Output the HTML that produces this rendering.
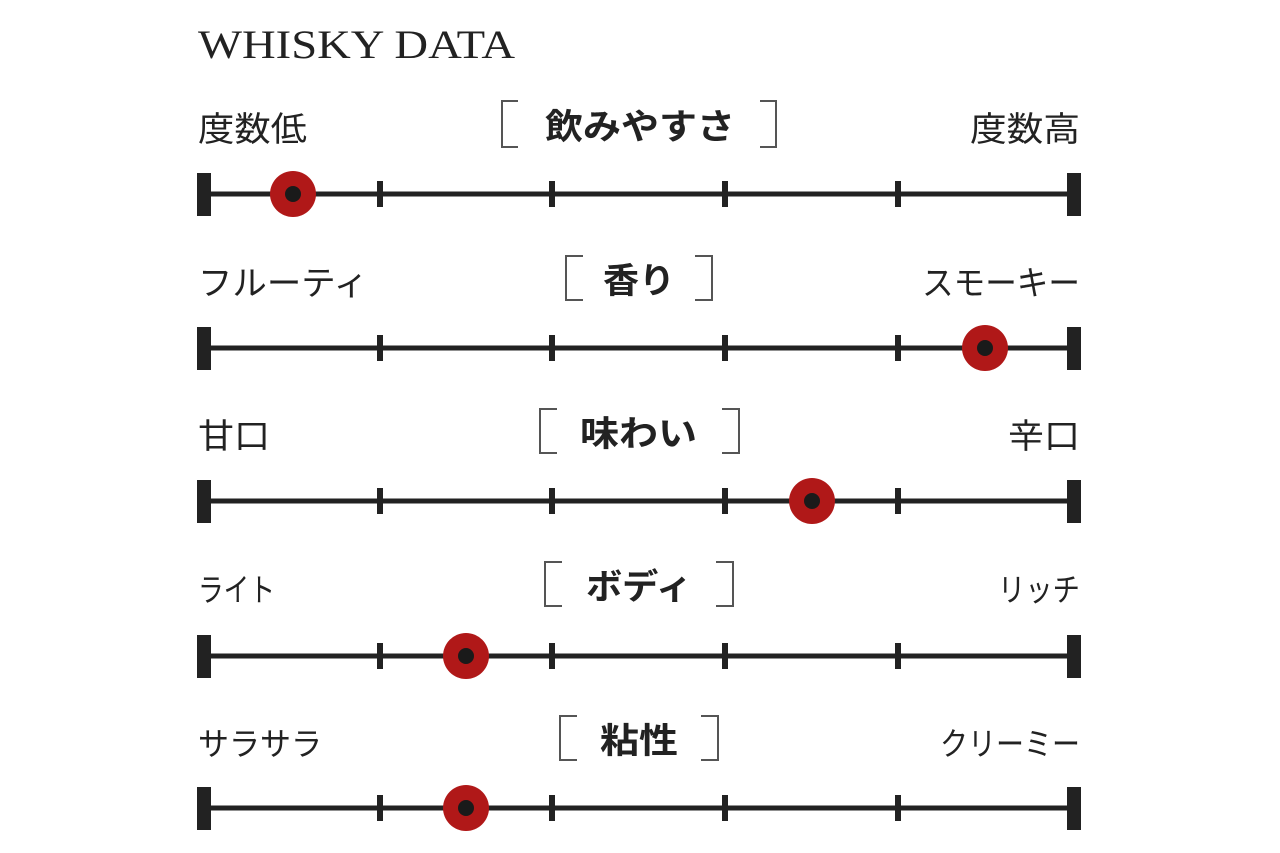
<!DOCTYPE html>
<html><head><meta charset="utf-8"><style>html,body{margin:0;padding:0;background:#fff;}svg{display:block}</style></head>
<body>
<svg width="1280" height="853" viewBox="0 0 1280 853" xmlns="http://www.w3.org/2000/svg">
<text x="198" y="58" font-family="Liberation Serif, serif" font-size="40" fill="#222" textLength="317" lengthAdjust="spacingAndGlyphs">WHISKY DATA</text>
<g font-family="Liberation Sans, Noto Sans CJK JP, sans-serif" fill="#222" lengthAdjust="spacingAndGlyphs">
<!-- row 1 -->
<text x="198" y="141" font-size="34" textLength="109" lengthAdjust="spacingAndGlyphs">度数低</text>
<text x="970" y="141" font-size="34" textLength="110" lengthAdjust="spacingAndGlyphs">度数高</text>
<text x="545" y="139" font-size="35" font-weight="bold" textLength="190" lengthAdjust="spacingAndGlyphs">飲みやすさ</text>
<!-- row 2 -->
<text x="198" y="295" font-size="34" textLength="170" lengthAdjust="spacingAndGlyphs">フルーティ</text>
<text x="922" y="295" font-size="34" textLength="158" lengthAdjust="spacingAndGlyphs">スモーキー</text>
<text x="603" y="293" font-size="35" font-weight="bold" textLength="72" lengthAdjust="spacingAndGlyphs">香り</text>
<!-- row 3 -->
<text x="198" y="448" font-size="34" textLength="72" lengthAdjust="spacingAndGlyphs">甘口</text>
<text x="1008" y="448" font-size="34" textLength="72" lengthAdjust="spacingAndGlyphs">辛口</text>
<text x="580" y="446" font-size="35" font-weight="bold" textLength="117" lengthAdjust="spacingAndGlyphs">味わい</text>
<!-- row 4 -->
<text x="198" y="601" font-size="32" textLength="77" lengthAdjust="spacingAndGlyphs">ライト</text>
<text x="998" y="601" font-size="32" textLength="82" lengthAdjust="spacingAndGlyphs">リッチ</text>
<text x="586" y="599" font-size="35" font-weight="bold" textLength="106" lengthAdjust="spacingAndGlyphs">ボディ</text>
<!-- row 5 -->
<text x="198" y="755" font-size="32" textLength="124" lengthAdjust="spacingAndGlyphs">サラサラ</text>
<text x="940" y="755" font-size="32" textLength="140" lengthAdjust="spacingAndGlyphs">クリーミー</text>
<text x="600" y="753" font-size="35" font-weight="bold" textLength="78" lengthAdjust="spacingAndGlyphs">粘性</text>
</g>
<g fill="none" stroke="#555" stroke-width="2">
<path d="M518 101 H502 V147 H518"/><path d="M760 101 H776 V147 H760"/>
<path d="M583 256 H566 V300 H583"/><path d="M695 256 H712 V300 H695"/>
<path d="M557 409 H540 V453 H557"/><path d="M722 409 H739 V453 H722"/>
<path d="M562 562 H545 V606 H562"/><path d="M716 562 H733 V606 H716"/>
<path d="M577 716 H560 V760 H577"/><path d="M701 716 H718 V760 H701"/>
</g>
<defs>
<g id="scale">
<rect x="198" y="-2.5" width="882" height="5" fill="#222"/>
<rect x="197" y="-21" width="14" height="43" fill="#222"/>
<rect x="1067" y="-21" width="14" height="43" fill="#222"/>
<rect x="377" y="-13" width="6" height="26" fill="#222"/>
<rect x="549" y="-13" width="6" height="26" fill="#222"/>
<rect x="722" y="-13" width="6" height="26" fill="#222"/>
<rect x="895" y="-13" width="6" height="26" fill="#222"/>
</g>
<g id="dot"><circle r="23" fill="#b01818"/><circle r="8" fill="#1a1a1a"/></g>
</defs>
<use href="#scale" y="194"/><use href="#dot" x="293" y="194"/>
<use href="#scale" y="348"/><use href="#dot" x="985" y="348"/>
<use href="#scale" y="501"/><use href="#dot" x="812" y="501"/>
<use href="#scale" y="656"/><use href="#dot" x="466" y="656"/>
<use href="#scale" y="808"/><use href="#dot" x="466" y="808"/>
</svg>
</body></html>
